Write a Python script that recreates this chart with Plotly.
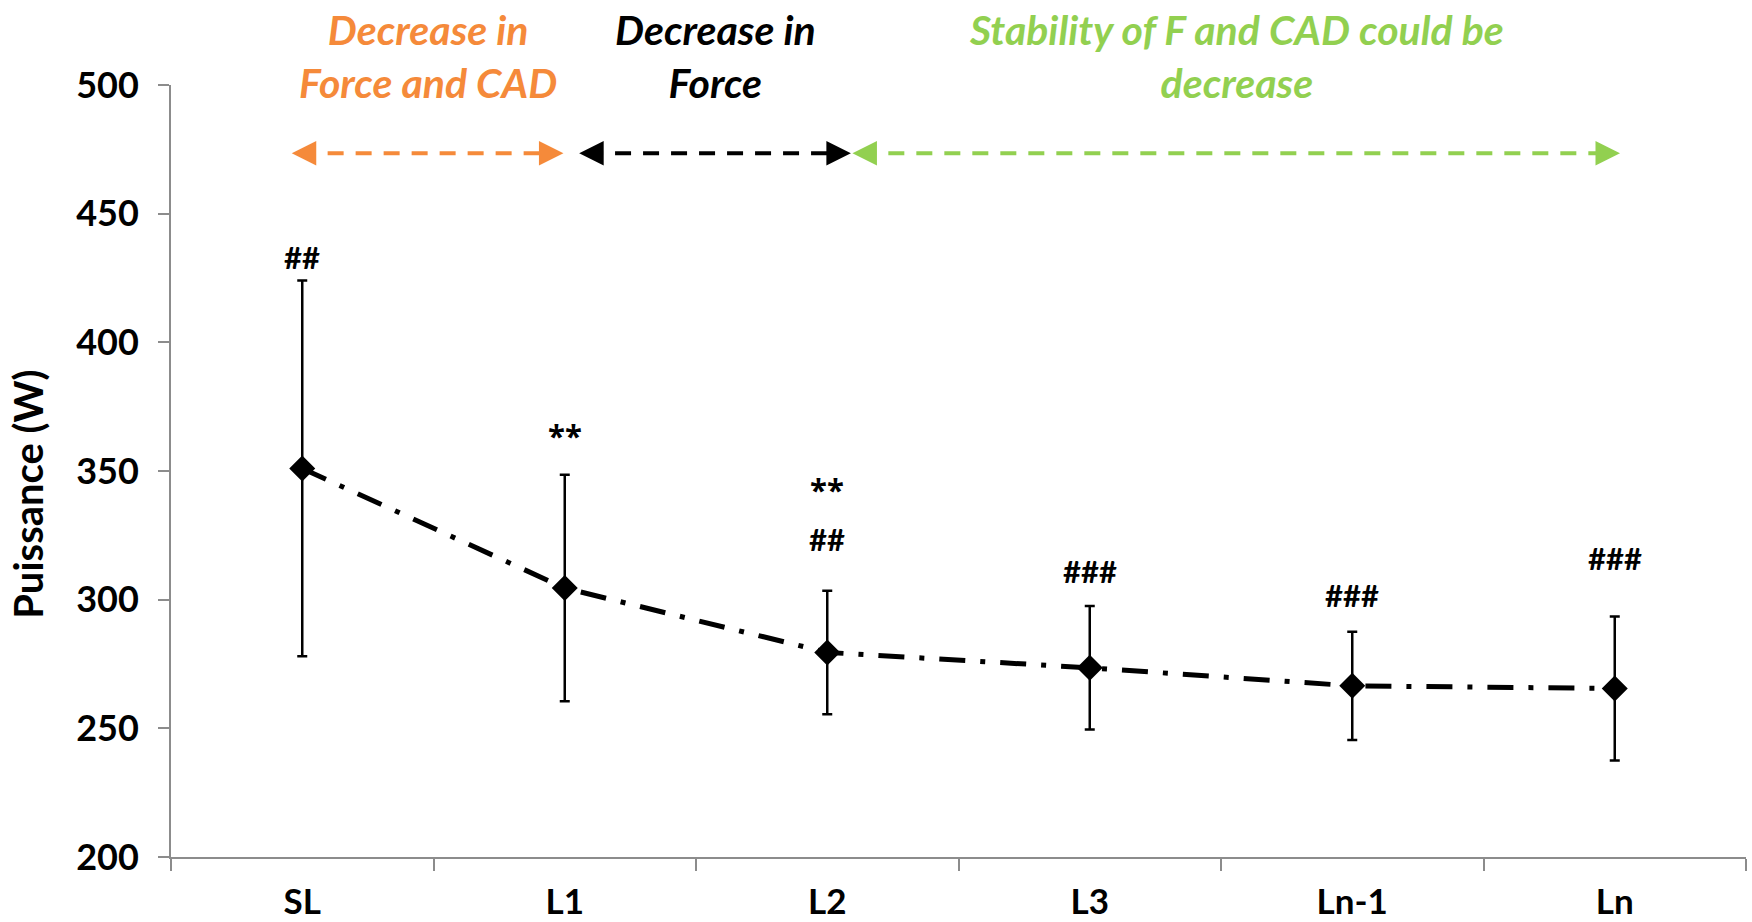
import plotly.graph_objects as go

categories = ["SL", "L1", "L2", "L3", "Ln-1", "Ln"]
power_mean = [351, 304.5, 279.5, 273.5, 266.5, 265.5]
power_sd = [73, 44, 24, 24, 21, 28]

sig_cat = ["SL", "L1", "L2", "L2", "L3", "Ln-1", "Ln"]
sig_text = ["##", "**", "**", "##", "###", "###", "###"]
sig_y = [433, 364, 343, 323.5, 311, 302, 316]

phase_texts = ["Decrease in<br>Force and CAD", "Decrease in<br>Force", "Stability of F and CAD could be<br>decrease"]
phase_colors = ["#F58A3A", "#000000", "#92D050"]
phase_start = [-0.04, 1.055, 2.096]
phase_end = [0.995, 2.09, 5.02]
phase_y = 473.5

FONT = "Lato, Open Sans, sans-serif"
STAR_FONT = "Open Sans, sans-serif"
AXIS_GREY = "#8C8C8C"

fig = go.Figure()
fig.add_trace(go.Scatter(
    x=categories, y=power_mean,
    mode="lines+markers",
    line=dict(color="black", width=5, dash="26px,15px,5px,15px"),
    marker=dict(symbol="diamond", size=20, color="black"),
    error_y=dict(type="data", array=power_sd, visible=True, color="black", thickness=2.5, width=5),
    cliponaxis=False, showlegend=False,
))

annotations = []
for c, lab, yv in zip(sig_cat, sig_text, sig_y):
    annotations.append(dict(x=categories.index(c), y=yv, xref="x", yref="y", text=lab, showarrow=False,
                            font=dict(family=STAR_FONT if "*" in lab else FONT, size=31,
                                      color="black", weight="bold")))

shapes = []
for txt, col, xs, xe in zip(phase_texts, phase_colors, phase_start, phase_end):
    shapes.append(dict(type="line", xref="x", yref="y", x0=xs + 0.03, x1=xe - 0.03, y0=phase_y, y1=phase_y,
                       line=dict(color=col, width=4, dash="16px,12px")))
    for tip, tail in ((xs, xs + 0.04), (xe, xe - 0.04)):
        annotations.append(dict(x=tip, y=phase_y, ax=tail, ay=phase_y, xref="x", yref="y",
                                axref="x", ayref="y", text="", showarrow=True, arrowhead=2,
                                arrowsize=1.4, arrowwidth=3.5, arrowcolor=col, standoff=0))
    annotations.append(dict(x=(xs + xe) / 2, y=1.106, xref="x", yref="paper", yanchor="top",
                            text=txt, showarrow=False, align="center",
                            font=dict(family=FONT, size=41, color=col, weight="bold", style="italic")))

annotations.append(dict(x=-0.091, y=0.47, xref="paper", yref="paper", xanchor="center", yanchor="middle",
                        text="Puissance (W)", textangle=-90, showarrow=False,
                        font=dict(family=FONT, size=40, color="black", weight="bold")))

fig.update_layout(
    width=1752, height=922,
    margin=dict(l=171, r=6, t=85, b=65, autoexpand=False),
    paper_bgcolor="white", plot_bgcolor="white",
    annotations=annotations, shapes=shapes,
    xaxis=dict(
        type="category", categoryorder="array", categoryarray=categories,
        range=[-0.5, 5.5], tickson="boundaries", ticks="outside", ticklen=12, tickwidth=2,
        tickcolor=AXIS_GREY, showline=True, linecolor=AXIS_GREY, linewidth=2,
        showgrid=False, zeroline=False, ticklabelstandoff=13, automargin=False,
        tickfont=dict(family=FONT, size=35, color="black", weight="bold"),
    ),
    yaxis=dict(
        range=[200, 500], tickvals=[200, 250, 300, 350, 400, 450, 500],
        ticks="outside", ticklen=11, tickwidth=2, tickcolor=AXIS_GREY,
        showline=True, linecolor=AXIS_GREY, linewidth=2, showgrid=False, zeroline=False,
        ticklabelstandoff=12, automargin=False,
        tickfont=dict(family=FONT, size=36, color="black", weight="bold"),
    ),
)

fig.write_html("out.html")
